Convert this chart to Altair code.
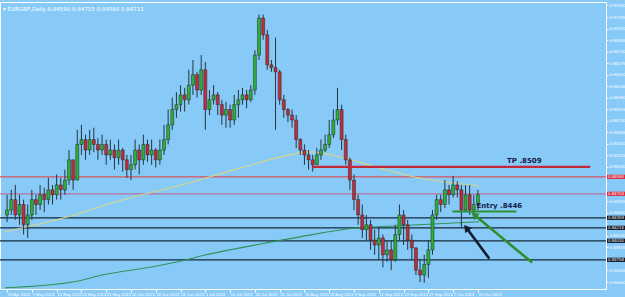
import json
import altair as alt
import pandas as pd

# ---------------- data ----------------
closes = [0.8447, 0.8462, 0.8440, 0.8455, 0.8426, 0.8440, 0.8462, 0.8455, 0.8469, 0.8462,
          0.8476, 0.8469, 0.8483, 0.8476, 0.8490, 0.8519, 0.8490, 0.8541, 0.8548, 0.8533,
          0.8548, 0.8541, 0.8533, 0.8541, 0.8526, 0.8533, 0.8522, 0.8533, 0.8519, 0.8505,
          0.8512, 0.8533, 0.8519, 0.8541, 0.8526, 0.8533, 0.8519, 0.8533, 0.8548, 0.8569,
          0.8591, 0.8598, 0.8612, 0.8605, 0.8626, 0.8641, 0.8619, 0.8648, 0.8591, 0.8605,
          0.8612, 0.8598, 0.8583, 0.8591, 0.8576, 0.8598, 0.8605, 0.8612, 0.8605, 0.8619,
          0.8669, 0.8722, 0.8698, 0.8655, 0.8651, 0.8645, 0.8605, 0.8591, 0.8583, 0.8576,
          0.8548, 0.8533, 0.8526, 0.8519, 0.8512, 0.8526, 0.8533, 0.8541, 0.8555, 0.8576,
          0.8591, 0.8548, 0.8519, 0.8490, 0.8462, 0.8440, 0.8419, 0.8426, 0.8404, 0.8397,
          0.8407, 0.8383, 0.8390, 0.8376, 0.8412, 0.8440, 0.8426, 0.8404, 0.8393, 0.8361,
          0.8354, 0.8369, 0.8390, 0.8440, 0.8462, 0.8455, 0.8476, 0.8469, 0.8483, 0.8476,
          0.8447, 0.8469, 0.8447, 0.8455, 0.8469]
highs = [0.8469, 0.8476, 0.8483, 0.8469, 0.8462, 0.8455, 0.8476, 0.8469, 0.8483, 0.8479,
         0.8493, 0.8483, 0.8498, 0.8493, 0.8505, 0.8533, 0.8519, 0.8562, 0.8569, 0.8555,
         0.8562, 0.8565, 0.8550, 0.8555, 0.8548, 0.8548, 0.8541, 0.8548, 0.8536, 0.8526,
         0.8526, 0.8548, 0.8541, 0.8555, 0.8548, 0.8548, 0.8536, 0.8548, 0.8569, 0.8591,
         0.8608, 0.8616, 0.8626, 0.8622, 0.8648, 0.8662, 0.8645, 0.8669, 0.8659, 0.8619,
         0.8626, 0.8616, 0.8605, 0.8602, 0.8598, 0.8612, 0.8619, 0.8622, 0.8619, 0.8626,
         0.8676, 0.8727, 0.8727, 0.8705, 0.8662, 0.8694, 0.8648, 0.8612, 0.8593, 0.8591,
         0.8583, 0.8550, 0.8541, 0.8533, 0.8526, 0.8536, 0.8548, 0.8555, 0.8576, 0.8591,
         0.8622, 0.8598, 0.8555, 0.8522, 0.8498, 0.8469, 0.8455, 0.8440, 0.8433, 0.8419,
         0.8422, 0.8412, 0.8404, 0.8404, 0.8426, 0.8455, 0.8447, 0.8433, 0.8412, 0.8390,
         0.8376, 0.8383, 0.8404, 0.8447, 0.8469, 0.8469, 0.8490, 0.8483, 0.8496, 0.8488,
         0.8483, 0.8483, 0.8483, 0.8469, 0.8476]
lows = [0.8430, 0.8440, 0.8433, 0.8426, 0.8412, 0.8407, 0.8433, 0.8440, 0.8447, 0.8444,
        0.8455, 0.8455, 0.8462, 0.8462, 0.8469, 0.8483, 0.8476, 0.8490, 0.8526, 0.8519,
        0.8526, 0.8530, 0.8519, 0.8526, 0.8512, 0.8519, 0.8505, 0.8512, 0.8502, 0.8493,
        0.8490, 0.8505, 0.8498, 0.8512, 0.8516, 0.8512, 0.8508, 0.8512, 0.8526, 0.8541,
        0.8562, 0.8579, 0.8588, 0.8588, 0.8598, 0.8612, 0.8608, 0.8612, 0.8562, 0.8583,
        0.8598, 0.8583, 0.8569, 0.8565, 0.8565, 0.8569, 0.8579, 0.8598, 0.8593, 0.8602,
        0.8612, 0.8662, 0.8691, 0.8648, 0.8645, 0.8562, 0.8598, 0.8579, 0.8573, 0.8565,
        0.8536, 0.8526, 0.8512, 0.8505, 0.8502, 0.8512, 0.8519, 0.8530, 0.8536, 0.8550,
        0.8569, 0.8533, 0.8512, 0.8476, 0.8447, 0.8426, 0.8407, 0.8404, 0.8390, 0.8383,
        0.8376, 0.8365, 0.8373, 0.8361, 0.8373, 0.8404, 0.8397, 0.8390, 0.8376, 0.8354,
        0.8344, 0.8343, 0.8350, 0.8383, 0.8433, 0.8444, 0.8450, 0.8455, 0.8465, 0.8465,
        0.8422, 0.8444, 0.8440, 0.8440, 0.8447]
first_open = 0.8440

# moving averages (read at a few points)
ma_fast_i = [-0.5, 13.8, 28.1, 42.4, 56.6, 68.5, 73.3, 80.5, 90.0, 99.5, 114.3]
ma_fast_v = [0.84159, 0.84359, 0.84617, 0.84832, 0.85075, 0.85261, 0.85304, 0.85233, 0.85075, 0.84932, 0.84818]
ma_slow_i = [-0.5, 16.2, 23.3, 35.2, 42.4, 47.1, 59.0, 70.9, 82.8, 94.7, 114.3]
ma_slow_v = [0.83357, 0.83443, 0.83543, 0.83658, 0.83744, 0.83815, 0.83958, 0.84087, 0.84202, 0.84245, 0.84302]

# horizontal levels across the chart
level_prices = [0.84946, 0.84703, 0.84359, 0.84216, 0.84030, 0.83758]
level_kind = ["red", "pink", "dark", "dark", "dark", "dark"]

tp_price = 0.8509
tp_from, tp_to = 73.8, 141.2
entry_price = 0.8445
entry_from, entry_to = 107.8, 123.3

date_labels = ["29 Apr 2013", "7 May 2013", "15 May 2013", "23 May 2013", "31 May 2013",
               "10 Jun 2013", "18 Jun 2013", "26 Jun 2013", "5 Jul 2013", "15 Jul 2013",
               "23 Jul 2013", "31 Jul 2013", "16 Aug 2013", "26 Aug 2013", "3 Sep 2013",
               "11 Sep 2013", "19 Sep 2013", "27 Sep 2013", "7 Oct 2013", "15 Oct 2013"]
price_ticks = [0.87400, 0.87235, 0.87070, 0.86905, 0.86740, 0.86575, 0.86410, 0.86245,
               0.86080, 0.85915, 0.85750, 0.85585, 0.85420, 0.85255, 0.85090, 0.84925,
               0.84760, 0.84595, 0.84430, 0.84265, 0.84100, 0.83935, 0.83770, 0.83605, 0.83440]

# arrows: (tail_i, tail_p, head_i, head_p)
arrow_black = (116.6, 0.83787, 111.2, 0.84216)
arrow_green = (126.9, 0.83729, 113.1, 0.84402)

# ---------------- build ----------------
opens = [first_open] + closes[:-1]
n = len(closes)
df = pd.DataFrame({
    "i": list(range(n)),
    "open": opens,
    "close": closes,
    "high": [max(h, o, c) for h, o, c in zip(highs, opens, closes)],
    "low": [min(l, o, c) for l, o, c in zip(lows, opens, closes)],
})
df["dir"] = ["up" if c >= o else "down" for o, c in zip(opens, closes)]

BG = "#87CAF8"
SMALL_FONT = "Liberation Sans Narrow, Liberation Sans, sans-serif"
xs = alt.Scale(domain=[-0.5, 143.8], nice=False, zero=False)
ys = alt.Scale(domain=[0.8334, 0.8745], nice=False, zero=False)

# axis labels hidden behind the highlighted price boxes are not shown
visible_ticks = [t for t in price_ticks if all(abs(t - p) > 0.0006 for p in level_prices)]

label_pos = [6 * k for k in range(len(date_labels))]
label_map = {str(p): t for p, t in zip(label_pos, date_labels)}
x_axis = alt.Axis(values=label_pos, labelExpr=json.dumps(label_map) + "[datum.value]",
                  labelAlign="left", labelColor="white", labelFontSize=4.2, labelFont=SMALL_FONT,
                  tickColor="white", tickSize=3, domainColor="white", labelPadding=0,
                  grid=False, title=None, labelOverlap=False, labelFlush=False)
y_axis = alt.Axis(orient="right", values=visible_ticks, format=".5f", labelColor="white",
                  labelFontSize=4.4, labelFont=SMALL_FONT, tickColor="white", tickSize=2,
                  domainColor="white", labelPadding=1, grid=False, title=None, labelOverlap=False)


def X(f):
    return alt.X(f, type="quantitative", scale=xs, axis=x_axis)


def Y(f):
    return alt.Y(f, type="quantitative", scale=ys, axis=y_axis)


lv = pd.DataFrame({"p": level_prices, "kind": level_kind})
lines = alt.Chart(lv).mark_rule(strokeWidth=1.2).encode(
    y=Y("p"),
    color=alt.Color("kind:N", scale=alt.Scale(domain=["red", "pink", "dark"],
                                              range=["#d8505e", "#b8709c", "#16283a"]), legend=None),
)

ma = pd.DataFrame({"i": ma_fast_i + ma_slow_i, "v": ma_fast_v + ma_slow_v,
                   "s": ["fast"] * len(ma_fast_i) + ["slow"] * len(ma_slow_i)})
ma_lines = alt.Chart(ma).mark_line(strokeWidth=1.1, interpolate="monotone").encode(
    x=X("i"), y=Y("v"),
    color=alt.Color("s:N", scale=alt.Scale(domain=["fast", "slow"], range=["#d8d48a", "#2f9457"]), legend=None),
    detail="s:N",
)

wicks = alt.Chart(df).mark_rule(strokeWidth=1, color="#26343f").encode(
    x=X("i"), y=Y("low"), y2="high:Q",
)
bodies = alt.Chart(df).mark_bar(size=3, stroke="#1d2a22", strokeWidth=0.5).encode(
    x=X("i"), y=Y("open"), y2="close:Q",
    color=alt.Color("dir:N", scale=alt.Scale(domain=["up", "down"], range=["#2fae38", "#c42a3a"]), legend=None),
)

seg = pd.DataFrame({"a": [tp_from, entry_from], "b": [tp_to, entry_to], "p": [tp_price, entry_price],
                    "k": ["tp", "entry"]})
segs = alt.Chart(seg).mark_rule(strokeWidth=2.2).encode(
    x=X("a"), x2="b:Q", y=Y("p"),
    color=alt.Color("k:N", scale=alt.Scale(domain=["tp", "entry"], range=["#c22a3c", "#2f8f2f"]), legend=None),
)

ann = pd.DataFrame({"i": [123.0, 115.6], "p": [0.85170, 0.84525], "t": ["TP .8509", "Entry .8446"]})
ann_text = alt.Chart(ann).mark_text(align="left", baseline="middle", fontSize=7, fontWeight="bold",
                                    color="#17204a", font="DejaVu Sans", dx=-8).encode(
    x=X("i"), y=Y("p"), text="t:N")

arr = pd.DataFrame({"i": [arrow_black[0], arrow_green[0]], "p": [arrow_black[1], arrow_green[1]],
                    "i2": [arrow_black[2], arrow_green[2]], "p2": [arrow_black[3], arrow_green[3]],
                    "k": ["black", "green"], "ang": [322.0, 309.0]})
arr_col = alt.Scale(domain=["black", "green"], range=["#141c2c", "#2f8f2f"])
arrows = alt.Chart(arr).mark_rule(strokeWidth=2.6, strokeCap="round").encode(
    x=X("i"), x2="i2:Q", y=Y("p"), y2="p2:Q",
    color=alt.Color("k:N", scale=arr_col, legend=None),
)
heads = alt.Chart(arr).mark_point(shape="triangle-up", filled=True, size=70, opacity=1).encode(
    x=X("i2"), y=Y("p2"),
    color=alt.Color("k:N", scale=arr_col, legend=None),
    angle=alt.Angle("ang:Q", scale=None),
)

box = pd.DataFrame({"p": level_prices, "kind": level_kind,
                    "lab": [f"{v:.5f}" for v in level_prices]})
box_rect = alt.Chart(box).mark_rect().encode(
    x=alt.value(607), x2=alt.value(625),
    y=Y("lo"), y2="hi:Q",
    color=alt.Color("kind:N", scale=alt.Scale(domain=["red", "pink", "dark"],
                                              range=["#d8283c", "#d8283c", "#0c1420"]), legend=None),
).transform_calculate(lo="datum.p - 0.0003", hi="datum.p + 0.0003")
box_text = alt.Chart(box).mark_text(align="left", baseline="middle", fontSize=4.4, color="white",
                                    font=SMALL_FONT).encode(
    x=alt.value(608), y=Y("p"), text="lab:N")

title = alt.Chart(pd.DataFrame({"t": ["\u25be EURGBP,Daily  0.84590 0.84715 0.84580 0.84711"]})).mark_text(
    align="left", baseline="middle", fontSize=5.5, color="white", font="DejaVu Sans").encode(
    x=alt.value(3), y=alt.value(7), text="t:N")

chart = alt.layer(lines, ma_lines, wicks, bodies, segs, ann_text, arrows, heads,
                  box_rect, box_text, title).resolve_scale(color="independent").properties(
    width=606, height=287,
    autosize=alt.AutoSizeParams(type="none"),
    padding={"left": 0, "top": 2, "right": 19, "bottom": 8},
    background=BG,
).configure_view(stroke="white", strokeWidth=1, fill=BG)

chart.save("out.html", embed_options={"renderer": "svg", "actions": False})
